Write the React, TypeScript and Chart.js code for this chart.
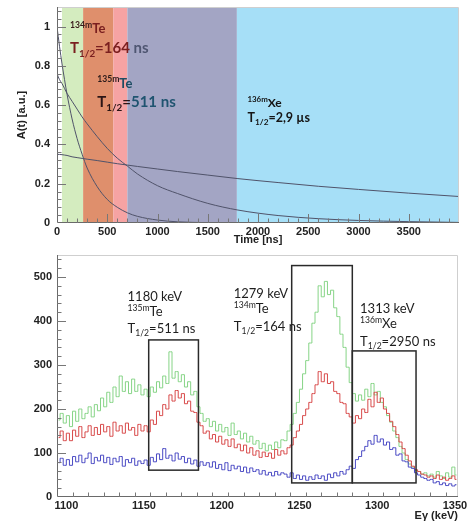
import React, { useEffect, useRef } from "react";
import { Chart, registerables } from "chart.js";
Chart.register(...registerables);

// ---------- top chart: decay curves ----------
const decayTimes = [0, 25, 50, 75, 100, 150, 200, 250, 300, 400, 500, 600, 700, 800, 1000, 1200, 1500, 1800, 2200, 2600, 3000, 3500, 4000];
const decayTe134 = [1, 0.9, 0.81, 0.73, 0.655, 0.53, 0.43, 0.35, 0.28, 0.185, 0.12, 0.08, 0.052, 0.034, 0.015, 0.006, 0.002, 0.0005, 0, 0, 0, 0, 0];
const decayTe135 = [0.76, 0.73, 0.71, 0.685, 0.66, 0.62, 0.58, 0.54, 0.505, 0.44, 0.38, 0.33, 0.29, 0.25, 0.19, 0.15, 0.1, 0.066, 0.038, 0.022, 0.013, 0.007, 0.003];
const decayXe136 = [0.35, 0.349, 0.348, 0.346, 0.344, 0.337, 0.333, 0.329, 0.325, 0.318, 0.31, 0.302, 0.295, 0.288, 0.275, 0.262, 0.244, 0.226, 0.206, 0.187, 0.171, 0.152, 0.135];
const bandEdges = [50, 260, 560, 700, 1790, 3990];
const bandColors = ["#d4ecbf", "#df8f6c", "#f6a3a3", "#a3a5c4", "#a6dff7"];
const topXTicks = [0, 500, 1000, 1500, 2000, 2500, 3000, 3500];
const topYTicks = [0, 0.2, 0.4, 0.6, 0.8, 1];

// ---------- bottom chart: gamma spectra ----------
const binStart = 1094;
const binWidth = 2;
const greenCounts = [
  175, 190, 168,
  185, 160, 195, 172, 200, 178, 190, 205, 182, 210,
  196, 225, 205, 238, 215, 250, 228, 275, 240, 262, 235, 268, 240, 255, 232,
  245, 228, 250, 238, 262, 248, 275, 258, 330, 270, 285, 262, 278, 250, 262, 232, 240, 205, 190, 172,
  178, 160, 172, 150, 165, 148, 158, 140, 168, 142, 150, 132, 145, 125, 138, 120, 128, 110, 122, 105, 118, 108, 125, 112, 130,
  128, 150, 165, 190, 215, 245, 280, 310, 350, 395, 420, 480, 455, 490, 460, 470, 430, 410, 370, 340, 295, 260, 235,
  218, 232, 220, 245, 228, 258, 232, 240, 215, 205, 185, 170, 150, 135, 115, 100, 85, 75, 68, 60, 58, 52, 55, 48, 52, 45, 58, 48, 42, 55, 45, 68, 50,
];
const redCounts = [
  135, 150, 128,
  145, 128, 152, 138, 160, 135, 148, 162, 140, 158,
  142, 165, 148, 160, 138, 170, 150, 162, 145, 168, 152, 158, 140, 165, 150,
  162, 148, 175, 165, 195, 185, 210, 200, 232, 218, 242, 225, 235, 212, 218, 195, 192, 170, 162, 145,
  150, 132, 142, 125, 138, 120, 130, 115, 132, 112, 120, 105, 118, 100, 112, 95, 105, 90, 102, 92, 100, 88, 108, 95, 105,
  98, 112, 118, 135, 150, 165, 185, 200, 215, 235, 255, 285, 262, 280, 258, 262, 240, 235, 215, 212, 190, 182, 168,
  185, 178, 200, 192, 222, 205, 238, 215, 225, 200, 190, 172, 160, 142, 125, 110, 95, 82, 70, 62, 58, 52, 50, 45, 48, 42, 50, 40, 45, 38, 42, 48, 40,
];
const blueCounts = [
  78, 88, 72,
  85, 72, 92, 80, 95, 78, 88, 100, 76, 90,
  82, 95, 78, 90, 74, 88, 80, 92, 70, 85, 78, 88, 72, 82, 76,
  84, 72, 90, 80, 98, 85, 110, 88, 95, 82, 100, 86, 92, 78, 88, 75, 84, 70, 80, 72,
  78, 68, 80, 65, 74, 62, 78, 60, 72, 64, 70, 58, 68, 55, 66, 58, 62, 52, 60, 50, 56, 48, 58, 50, 55,
  52, 45, 55, 42, 50, 40, 48, 38, 46, 40, 50, 42, 48, 38, 52, 44, 55, 48, 58, 52, 62, 70, 65,
  85, 92, 105, 115, 128, 120, 140, 125, 132, 118, 125, 108, 112, 95, 98, 82, 80, 68, 65, 55, 50, 45, 42, 38, 40, 32, 35, 28, 32, 26, 30, 25, 28,
];
const specXTicks = [1100, 1150, 1200, 1250, 1300, 1350];
const specYTicks = [0, 100, 200, 300, 400, 500];
// [E from, E to, counts from, counts to]
const gateBoxes = [
  [1153, 1185, 61, 357],
  [1245, 1284, 32, 526],
  [1284, 1325, 32, 332],
];

type Part = { t: string; shift?: "sup" | "sub"; color?: string };
type Label = { x: number; y: number; size: number; weight: string; color: string; parts: Part[] };

const topLabels: Label[] = [
  { x: 130, y: 0.967, size: 13, weight: "bold", color: "#7a1f1f", parts: [{ t: "134m", shift: "sup", color: "#3b1c1c" }, { t: "Te" }] },
  { x: 130, y: 0.865, size: 15, weight: "bold", color: "#7a1f1f", parts: [{ t: "T" }, { t: "1/2", shift: "sub" }, { t: "=164" }, { t: " ns", color: "#4f5672" }] },
  { x: 400, y: 0.69, size: 13, weight: "bold", color: "#1e4d63", parts: [{ t: "135m", shift: "sup", color: "#2b1a1a" }, { t: "Te" }] },
  { x: 400, y: 0.59, size: 15, weight: "bold", color: "#2b1515", parts: [{ t: "T" }, { t: "1/2", shift: "sub" }, { t: "=" }, { t: "511 ns", color: "#1f5470" }] },
  { x: 1895, y: 0.59, size: 12, weight: "bold", color: "#151515", parts: [{ t: "136m", shift: "sup" }, { t: "Xe" }] },
  { x: 1895, y: 0.514, size: 12.5, weight: "bold", color: "#151515", parts: [{ t: "T" }, { t: "1/2", shift: "sub" }, { t: "=2,9 µs" }] },
];

const specLabels: Label[] = [
  { x: 1139.4, y: 446, size: 13, weight: "normal", color: "#1e1e1e", parts: [{ t: "1180 keV" }] },
  { x: 1139.4, y: 411, size: 13, weight: "normal", color: "#1e1e1e", parts: [{ t: "135m", shift: "sup" }, { t: "Te" }] },
  { x: 1139.4, y: 373, size: 13, weight: "normal", color: "#1e1e1e", parts: [{ t: "T" }, { t: "1/2", shift: "sub" }, { t: "=511 ns" }] },
  { x: 1207.7, y: 453, size: 13, weight: "normal", color: "#1e1e1e", parts: [{ t: "1279 keV" }] },
  { x: 1207.7, y: 418, size: 13, weight: "normal", color: "#1e1e1e", parts: [{ t: "134m", shift: "sup" }, { t: "Te" }] },
  { x: 1207.7, y: 377, size: 13, weight: "normal", color: "#1e1e1e", parts: [{ t: "T" }, { t: "1/2", shift: "sub" }, { t: "=164 ns" }] },
  { x: 1289, y: 418, size: 13, weight: "normal", color: "#1e1e1e", parts: [{ t: "1313 keV" }] },
  { x: 1289, y: 384, size: 13, weight: "normal", color: "#1e1e1e", parts: [{ t: "136m", shift: "sup" }, { t: "Xe" }] },
  { x: 1289, y: 343, size: 13, weight: "normal", color: "#1e1e1e", parts: [{ t: "T" }, { t: "1/2", shift: "sub" }, { t: "=2950 ns" }] },
];

const LABEL_FONT = "Lato, 'Open Sans', sans-serif";
const AXIS_FONT = "'Liberation Sans', Arial, sans-serif";

type StyleCfg = {
  bands?: { edges: number[]; colors: string[] };
  boxes?: number[][];
  ticks: { xMajor: number; xMinor: number; xFirst: number; yMajor: number; yMinor: number; major: number; minor: number };
  labels: Label[];
};

function makeRootStyle(cfg: StyleCfg) {
  return {
    id: "rootStyle",
    beforeDatasetsDraw(chart: any) {
      const { ctx, chartArea: ca, scales } = chart;
      const xs = scales.x;
      if (cfg.bands) {
        ctx.save();
        for (let i = 0; i < cfg.bands.colors.length; i++) {
          const x0 = xs.getPixelForValue(cfg.bands.edges[i]);
          const x1 = xs.getPixelForValue(cfg.bands.edges[i + 1]);
          ctx.fillStyle = cfg.bands.colors[i];
          ctx.fillRect(x0, ca.top, x1 - x0, ca.bottom - ca.top);
        }
        ctx.restore();
      }
    },
    afterDatasetsDraw(chart: any) {
      const { ctx, chartArea: ca, scales } = chart;
      const xs = scales.x, ys = scales.y;
      ctx.save();
      if (cfg.boxes) {
        ctx.strokeStyle = "#2a2a2a";
        ctx.lineWidth = 1.5;
        for (const b of cfg.boxes) {
          const x0 = xs.getPixelForValue(b[0]), x1 = xs.getPixelForValue(b[1]);
          const y0 = ys.getPixelForValue(b[2]), y1 = ys.getPixelForValue(b[3]);
          ctx.strokeRect(x0, y1, x1 - x0, y0 - y1);
        }
      }
      // frame
      ctx.lineWidth = 1;
      ctx.strokeStyle = "#cfcfcf";
      ctx.beginPath();
      ctx.moveTo(ca.left, ca.top + 0.5);
      ctx.lineTo(ca.right - 0.5, ca.top + 0.5);
      ctx.lineTo(ca.right - 0.5, ca.bottom);
      ctx.stroke();
      ctx.strokeStyle = "#6a6a6a";
      ctx.beginPath();
      ctx.moveTo(ca.left + 0.5, ca.top);
      ctx.lineTo(ca.left + 0.5, ca.bottom - 0.5);
      ctx.lineTo(ca.right, ca.bottom - 0.5);
      ctx.stroke();
      // inward ticks
      const t = cfg.ticks;
      ctx.strokeStyle = "#777";
      ctx.beginPath();
      for (let v = xs.min; v <= xs.max + 1e-9; v += t.xMinor) {
        const r = Math.round(v * 1000) / 1000;
        const major = Math.abs(r / t.xMajor - Math.round(r / t.xMajor)) < 1e-6 && r >= t.xFirst;
        const px = Math.round(xs.getPixelForValue(r)) + 0.5;
        if (px <= ca.left + 1 || px >= ca.right - 1) continue;
        ctx.moveTo(px, ca.bottom);
        ctx.lineTo(px, ca.bottom - (major ? t.major : t.minor));
      }
      for (let v = ys.min; v <= ys.max + 1e-9; v += t.yMinor) {
        const r = Math.round(v * 1000) / 1000;
        const major = Math.abs(r / t.yMajor - Math.round(r / t.yMajor)) < 1e-6;
        const py = Math.round(ys.getPixelForValue(r)) + 0.5;
        if (py >= ca.bottom - 1 || py <= ca.top + 1) continue;
        ctx.moveTo(ca.left, py);
        ctx.lineTo(ca.left + (major ? t.major : t.minor), py);
      }
      ctx.stroke();
      // text labels
      ctx.textBaseline = "alphabetic";
      ctx.textAlign = "left";
      for (const a of cfg.labels) {
        let x = xs.getPixelForValue(a.x);
        const y = ys.getPixelForValue(a.y);
        for (const p of a.parts) {
          const size = Math.round((p.shift ? a.size * 0.66 : a.size) * 10) / 10;
          ctx.font = `${a.weight} ${size}px ${LABEL_FONT}`;
          const dy = p.shift === "sup" ? -a.size * 0.42 : p.shift === "sub" ? a.size * 0.24 : 0;
          ctx.fillStyle = p.color || a.color;
          ctx.fillText(p.t, x, y + dy);
          x += ctx.measureText(p.t).width;
        }
      }
      ctx.restore();
    },
  };
}

function fixedTicks(list: number[]) {
  return (scale: any) => {
    scale.ticks = list.map((v) => ({ value: v }));
  };
}
function fixSize(prop: "width" | "height", size: number) {
  return (s: any) => {
    s[prop] = size;
    s.paddingTop = 0;
    s.paddingBottom = 0;
    s.paddingLeft = 0;
    s.paddingRight = 0;
  };
}

const tickFont = { family: AXIS_FONT, size: 11, weight: "bold" as const };

function TopChart() {
  const ref = useRef<HTMLCanvasElement>(null);
  useEffect(() => {
    const mk = (vals: number[]) => decayTimes.map((t, i) => ({ x: t, y: vals[i] }));
    const lineDs = (vals: number[]) => ({
      data: mk(vals),
      borderColor: "#50536a",
      borderWidth: 1,
      pointRadius: 0,
      cubicInterpolationMode: "monotone" as const,
      fill: false,
    });
    const chart = new Chart(ref.current!, {
      type: "line",
      data: { datasets: [lineDs(decayTe134), lineDs(decayTe135), lineDs(decayXe136)] },
      plugins: [
        makeRootStyle({
          bands: { edges: bandEdges, colors: bandColors },
          ticks: { xMajor: 500, xMinor: 100, xFirst: 0, yMajor: 0.2, yMinor: 0.04, major: 9, minor: 4.5 },
          labels: topLabels,
        }),
      ],
      options: {
        responsive: false,
        animation: false,
        layout: { padding: { top: 7, right: 9, left: 0, bottom: 0 } },
        plugins: { legend: { display: false }, tooltip: { enabled: false } },
        scales: {
          x: {
            type: "linear",
            min: 0,
            max: 4000,
            grid: { display: false, drawTicks: false },
            border: { display: false },
            afterBuildTicks: fixedTicks(topXTicks),
            afterFit: fixSize("height", 27),
            ticks: { font: tickFont, color: "#222", padding: 2, maxRotation: 0, callback: (v: any) => String(v) },
            title: { display: true, text: "Time [ns]", font: tickFont, color: "#222", padding: { top: 0, bottom: 3 } },
          },
          y: {
            type: "linear",
            min: 0,
            max: 1.1,
            grid: { display: false, drawTicks: false },
            border: { display: false },
            afterBuildTicks: fixedTicks(topYTicks),
            afterFit: fixSize("width", 57),
            ticks: { font: tickFont, color: "#222", padding: 7, callback: (v: any) => String(v) },
            title: { display: true, text: "A(t) [a.u.]", font: tickFont, color: "#222", padding: { top: 15, bottom: 0 } },
          },
        },
      },
    });
    return () => chart.destroy();
  }, []);
  return <canvas ref={ref} width={468} height={250} style={{ position: "absolute", left: 0, top: 0, width: 468, height: 250 }} />;
}

function SpectrumChart() {
  const ref = useRef<HTMLCanvasElement>(null);
  useEffect(() => {
    const mk = (vals: number[]) => vals.map((v, i) => ({ x: binStart + i * binWidth + binWidth / 2, y: v }));
    const ds = (vals: number[], color: string) => ({
      data: mk(vals),
      borderColor: color,
      borderWidth: 1,
      pointRadius: 0,
      stepped: "middle" as const,
      fill: false,
    });
    const chart = new Chart(ref.current!, {
      type: "line",
      data: {
        datasets: [ds(blueCounts, "#4a4ac4"), ds(redCounts, "#d84a4a"), ds(greenCounts, "#86d486")],
      },
      plugins: [
        makeRootStyle({
          boxes: gateBoxes,
          ticks: { xMajor: 50, xMinor: 10, xFirst: 1100, yMajor: 100, yMinor: 20, major: 9, minor: 4.5 },
          labels: specLabels,
        }),
      ],
      options: {
        responsive: false,
        animation: false,
        layout: { padding: { top: 5, right: 10, left: 0, bottom: 0 } },
        plugins: { legend: { display: false }, tooltip: { enabled: false } },
        scales: {
          x: {
            type: "linear",
            min: 1094,
            max: 1352,
            grid: { display: false, drawTicks: false },
            border: { display: false },
            afterBuildTicks: fixedTicks(specXTicks),
            afterFit: fixSize("height", 24),
            ticks: { font: tickFont, color: "#222", padding: 2, maxRotation: 0, callback: (v: any) => String(v) },
            title: { display: true, text: "Eγ (keV)", align: "end", font: { ...tickFont, lineHeight: 1 }, color: "#222", padding: { top: 0, bottom: 0 } },
          },
          y: {
            type: "linear",
            min: 0,
            max: 550,
            grid: { display: false, drawTicks: false },
            border: { display: false },
            afterBuildTicks: fixedTicks(specYTicks),
            afterFit: fixSize("width", 57),
            ticks: { font: tickFont, color: "#222", padding: 5, callback: (v: any) => String(v) },
          },
        },
      },
    });
    return () => chart.destroy();
  }, []);
  return <canvas ref={ref} width={468} height={271} style={{ position: "absolute", left: 0, top: 250, width: 468, height: 271 }} />;
}

export default function App() {
  return (
    <div style={{ position: "absolute", left: 0, top: 0, width: 468, height: 521, background: "#fff", overflow: "hidden" }}>
      <TopChart />
      <SpectrumChart />
    </div>
  );
}
